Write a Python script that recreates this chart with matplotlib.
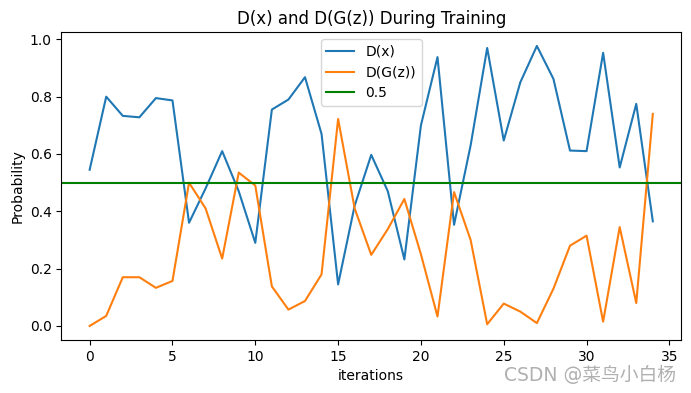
import numpy as np
import matplotlib.pyplot as plt

plt.rcParams['font.family'] = ['DejaVu Sans', 'Noto Sans CJK SC']

iterations = list(range(35))
d_x = [0.545, 0.80, 0.733, 0.728, 0.795, 0.787, 0.36, 0.48, 0.61, 0.47,
       0.29, 0.755, 0.79, 0.868, 0.67, 0.145, 0.42, 0.597, 0.47, 0.232,
       0.70, 0.938, 0.353, 0.63, 0.97, 0.647, 0.85, 0.977, 0.862, 0.612,
       0.61, 0.953, 0.553, 0.775, 0.365]
d_gz = [0.0, 0.035, 0.17, 0.17, 0.133, 0.157, 0.50, 0.41, 0.235, 0.535,
        0.49, 0.138, 0.057, 0.087, 0.18, 0.722, 0.41, 0.248, 0.338, 0.443,
        0.25, 0.033, 0.467, 0.30, 0.006, 0.078, 0.05, 0.01, 0.13, 0.28,
        0.315, 0.015, 0.345, 0.08, 0.74]
threshold = 0.5

fig = plt.figure(figsize=(6.91, 3.93), dpi=100)
ax = fig.add_axes([0.089, 0.135, 0.8965, 0.7837])
ax.plot(iterations, d_x, label='D(x)')
ax.plot(iterations, d_gz, label='D(G(z))')
ax.axhline(threshold, color='green', label='0.5')
ax.set_title('D(x) and D(G(z)) During Training')
ax.set_xlabel('iterations')
ax.set_ylabel('Probability')
ax.legend(loc='upper center')

fig.text(0.979, 0.046, 'CSDN @菜鸟小白杨', ha='right', va='center',
         fontsize=13.5, color='#b0b0b0',
         family=['DejaVu Sans', 'Noto Sans CJK SC'])

fig.savefig('out.png', dpi=100)
